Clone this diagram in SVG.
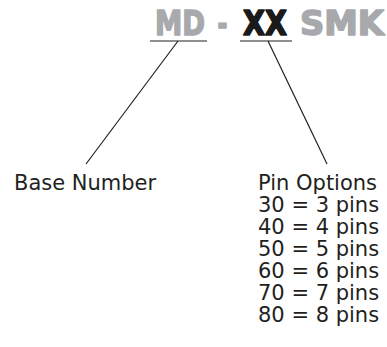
<svg xmlns="http://www.w3.org/2000/svg" width="387" height="347" viewBox="0 0 387 347">
<style>
.t{font-family:"DejaVu Sans",sans-serif;font-weight:bold;font-size:33px;stroke-width:1.6;stroke-linejoin:round}
.g{fill:#a7a9ac;stroke:#a7a9ac}
.k{fill:#1a1a1a;stroke:#1a1a1a}
.l{font-family:"DejaVu Sans",Verdana,sans-serif;font-size:21px;fill:#231f20}
.c{stroke:#231f20;stroke-width:1.2;fill:none}
</style>
<rect width="387" height="347" fill="#ffffff"/>
<g id="title">
<text class="t g" x="155" y="34.5" textLength="50" lengthAdjust="spacingAndGlyphs">MD</text>
<text class="t g" x="217.5" y="34.5" textLength="10" lengthAdjust="spacingAndGlyphs">-</text>
<text class="t k" x="243" y="34.5" textLength="44" lengthAdjust="spacingAndGlyphs">XX</text>
<text class="t g" x="300" y="34.5" textLength="84" lengthAdjust="spacingAndGlyphs">SMK</text>
</g>
<g id="connectors">
<line class="c" x1="150" y1="41" x2="207" y2="41"/>
<line class="c" x1="240" y1="41" x2="292" y2="41"/>
<line class="c" x1="178" y1="41" x2="86" y2="164"/>
<line class="c" x1="268" y1="41" x2="327" y2="164"/>
</g>
<g id="base-number">
<text class="l" x="14" y="190">Base Number</text>
</g>
<g id="pin-options">
<text class="l" x="258" y="190">Pin Options</text>
<text class="l" x="258" y="212">30 = 3 pins</text>
<text class="l" x="258" y="234">40 = 4 pins</text>
<text class="l" x="258" y="256">50 = 5 pins</text>
<text class="l" x="258" y="278">60 = 6 pins</text>
<text class="l" x="258" y="300">70 = 7 pins</text>
<text class="l" x="258" y="322">80 = 8 pins</text>
</g>
</svg>
